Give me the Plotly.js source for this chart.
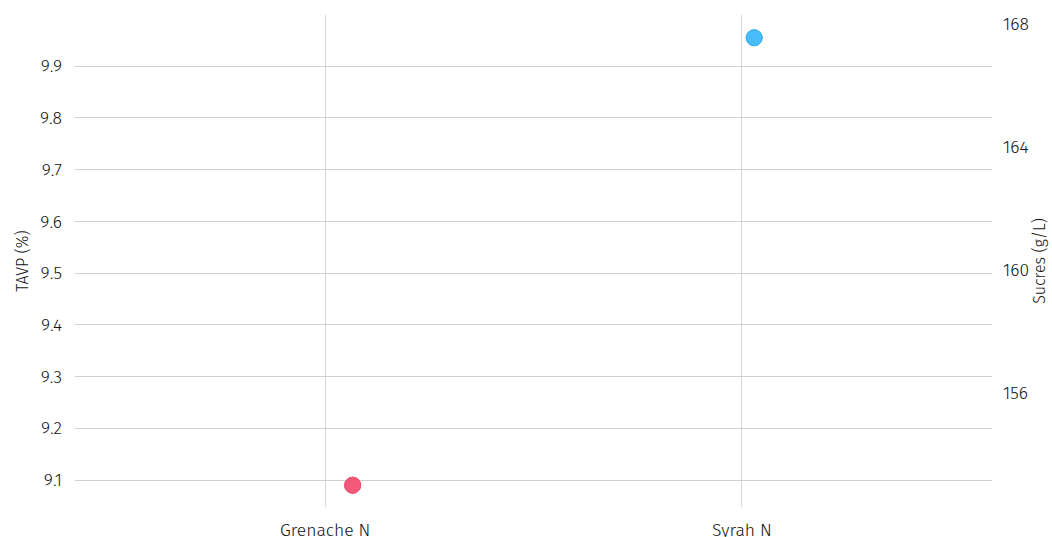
<!DOCTYPE html>
<html>
<head>
<meta charset="utf-8">
<script src="https://cdn.plot.ly/plotly-3.0.1.min.js"></script>
<style>html,body{margin:0;padding:0;background:#fff;}#chart{width:1052px;height:537px;}</style>
</head>
<body>
<div id="chart"></div>
<script>
// Data
const varieties = ["Grenache N", "Syrah N"];
const tavp = [9.09, 9.955];          // TAVP (%)
const sucres = [153.0, 167.55];      // Sucres (g/L)
const colors = ["rgba(244,88,122,0.92)", "rgba(72,188,250,0.92)"];
const lineColors = ["rgb(236,78,112)", "rgb(62,178,242)"];
const pointPos = [0.27, 0.12];
const yTicks = [9.1, 9.2, 9.3, 9.4, 9.5, 9.6, 9.7, 9.8, 9.9];
const y2Ticks = [156, 160, 164, 168];

const traces = [];
varieties.forEach((v, i) => {
  const common = {
    type: "box",
    x: [v],
    boxpoints: "all",
    jitter: 0,
    pointpos: pointPos[i],
    fillcolor: "rgba(0,0,0,0)",
    line: {width: 0, color: "rgba(0,0,0,0)"},
    marker: {size: 16, color: colors[i], line: {width: 1, color: lineColors[i]}},
    hoveron: "points",
    showlegend: false
  };
  traces.push(Object.assign({}, common, {y: [sucres[i]], yaxis: "y2", name: v + " sucres"}));
  traces.push(Object.assign({}, common, {y: [tavp[i]], yaxis: "y", name: v + " TAVP"}));
});

const font = "Fira Sans, Roboto, Noto Sans, sans-serif";
const tf = {family: font, size: 17.5, color: "#111", weight: 300};
const layout = {
  width: 1052, height: 537,
  margin: {l: 75, r: 60, t: 15, b: 30},
  paper_bgcolor: "#fff", plot_bgcolor: "#fff",
  font: {family: font, size: 16, color: "#111"},
  showlegend: false,
  boxmode: "overlay",
  xaxis: {
    type: "category",
    range: [-0.6, 1.6],
    showgrid: true, gridcolor: "#d6d6d6", gridwidth: 1,
    zeroline: false, showline: false, ticks: "",
    ticklabelstandoff: 10,
    tickfont: tf
  },
  yaxis: {
    range: [9.048, 9.999],
    tickvals: yTicks,
    ticktext: yTicks.map(t => t.toFixed(1)),
    showgrid: true, gridcolor: "#d0d0d0", gridwidth: 1,
    zeroline: false, showline: false, ticks: "",
    ticklabelstandoff: 12,
    tickfont: tf,
    title: {text: "TAVP (%)", font: {family: font, size: 16, color: "#111", weight: 300}, standoff: 7}
  },
  yaxis2: {
    overlaying: "y", side: "right",
    range: [152.29, 168.29],
    tickvals: y2Ticks,
    showgrid: false, zeroline: false, showline: false, ticks: "",
    ticklabelstandoff: 10,
    tickfont: tf,
    title: {text: "Sucres (g/L)", font: {family: font, size: 16, color: "#111", weight: 300}, standoff: 5}
  }
};

Plotly.newPlot("chart", traces, layout, {displayModeBar: false, responsive: false});
</script>
</body>
</html>
